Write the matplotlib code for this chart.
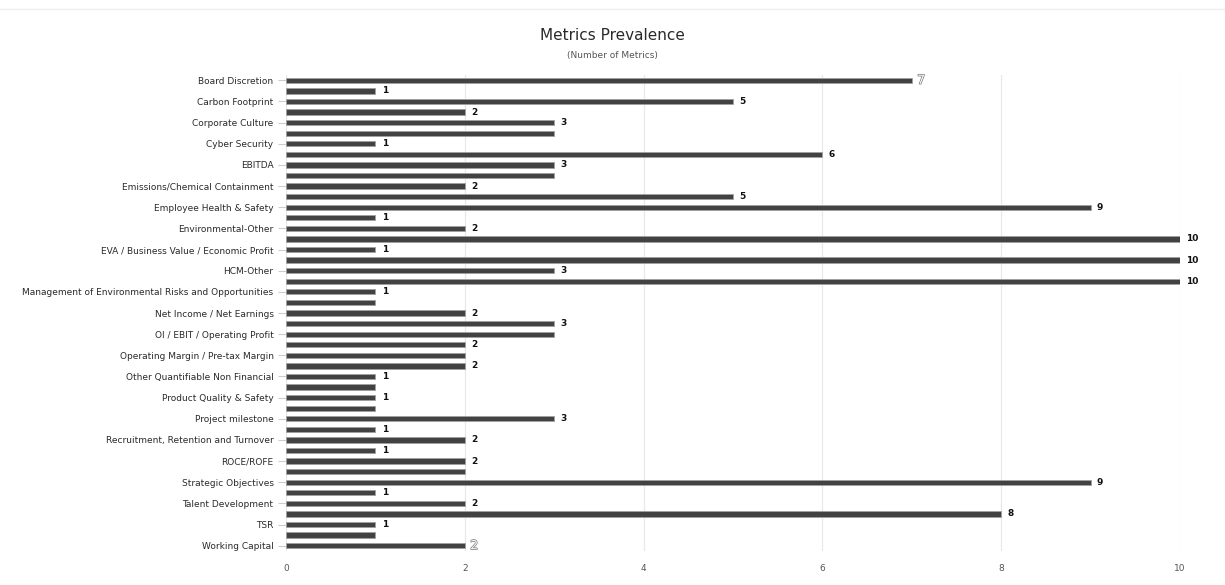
import matplotlib.pyplot as plt
import matplotlib.patheffects as pe
from matplotlib.lines import Line2D

# Category labels shown on the axis (every other bar carries a label).
shown_labels = [
    "Board Discretion", "Carbon Footprint", "Corporate Culture", "Cyber Security",
    "EBITDA", "Emissions/Chemical Containment", "Employee Health & Safety",
    "Environmental-Other", "EVA / Business Value / Economic Profit", "HCM-Other",
    "Management of Environmental Risks and Opportunities", "Net Income / Net Earnings",
    "OI / EBIT / Operating Profit", "Operating Margin / Pre-tax Margin",
    "Other Quantifiable Non Financial", "Product Quality & Safety", "Project milestone",
    "Recruitment, Retention and Turnover", "ROCE/ROFE", "Strategic Objectives",
    "Talent Development", "TSR", "Working Capital",
]

# Number of metrics per bar, top to bottom.
values = [7, 1, 5, 2, 3, 3, 1, 6, 3, 3,
          2, 5, 9, 1, 2, 10, 1, 10, 3, 10,
          1, 1, 2, 3, 3, 2, 2, 2, 1, 1,
          1, 1, 3, 1, 2, 1, 2, 2, 9, 1,
          2, 8, 1, 1, 2]

xticks = [0, 2, 4, 6, 8, 10]

fig = plt.figure(figsize=(12.25, 5.85), dpi=100)
ax = fig.add_axes([0.2335, 0.0581, 0.7298, 0.8137])

pos = list(range(len(values)))
ax.barh(pos, values, height=0.5, color="#424242", edgecolor="#a0a0a0",
        linewidth=0.6, zorder=3)

ax.set_ylim(len(values) - 0.5, -0.5)
ax.set_xlim(0, 10)

ax.set_yticks(pos[::2])
ax.set_yticklabels(shown_labels, fontsize=6.5, color="#2a2a2a")
ax.tick_params(axis="y", length=6, color="#cccccc", width=0.8, pad=3)

ax.set_xticks(xticks)
ax.set_xticklabels([str(t) for t in xticks], fontsize=6.5, color="#555555")
ax.tick_params(axis="x", length=0, pad=9)

ax.grid(axis="x", color="#e8e8e8", linewidth=0.9, zorder=0)
for s in ax.spines.values():
    s.set_visible(False)

# Value labels; a label is hidden when the bar above has the same value and shows its label.
prev_shown = False
for i, v in enumerate(values):
    show = not (i > 0 and values[i - 1] == v and prev_shown)
    if show:
        if i == 0 or i == len(values) - 1:
            ax.text(v + 0.06, i, str(v), va="center", ha="left", fontsize=9,
                    color="white",
                    path_effects=[pe.withStroke(linewidth=1.0, foreground="#777777")])
        else:
            ax.text(v + 0.07, i, str(v), va="center", ha="left", fontsize=6.5,
                    fontweight="bold", color="#111111")
    prev_shown = show

fig.text(0.5, 0.94, "Metrics Prevalence", ha="center", va="center",
         fontsize=11, color="#2a2a2a")
fig.text(0.5, 0.905, "(Number of Metrics)", ha="center", va="center",
         fontsize=6.5, color="#555555")

fig.add_artist(Line2D([0, 1], [1 - 9 / 585, 1 - 9 / 585], color="#eeeeee",
                      linewidth=1, transform=fig.transFigure))

fig.savefig("out.png", dpi=100)
